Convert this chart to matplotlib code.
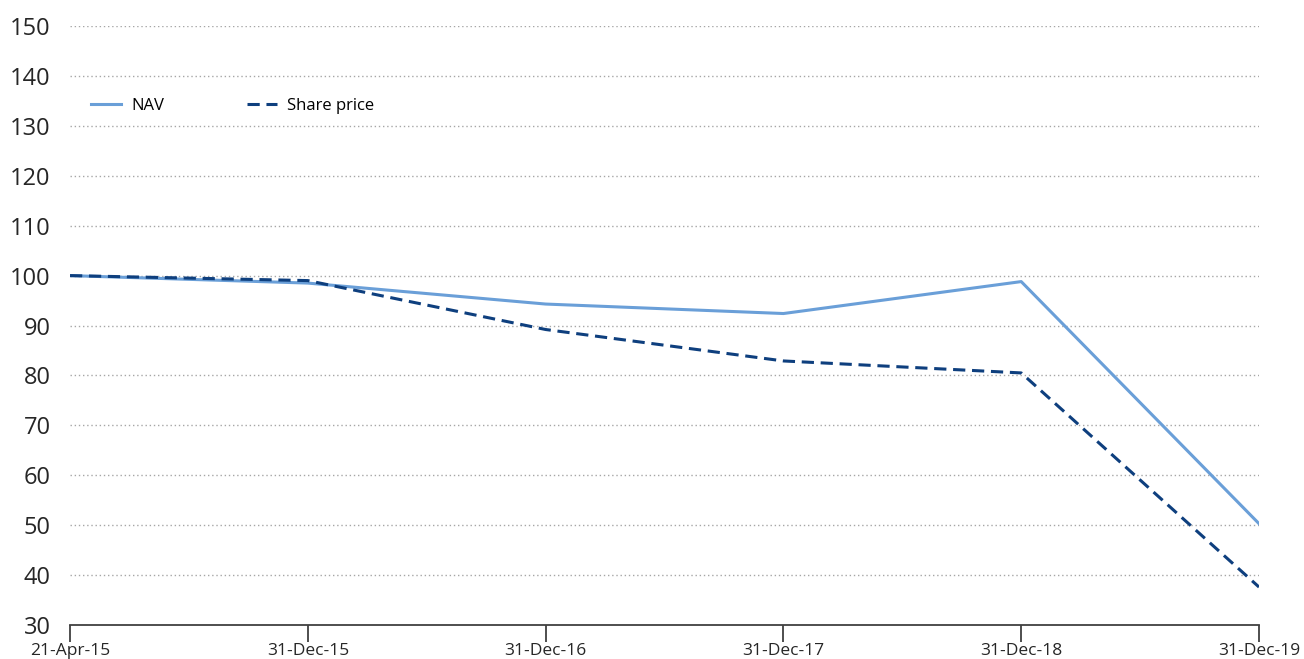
import numpy as np
import matplotlib.pyplot as plt

plt.rcParams['font.family'] = ['Open Sans', 'DejaVu Sans']

dates = ['21-Apr-15', '31-Dec-15', '31-Dec-16', '31-Dec-17', '31-Dec-18', '31-Dec-19']
nav = [100.0, 98.5, 94.3, 92.4, 98.8, 50.3]
share_price = [100.0, 99.0, 89.2, 82.9, 80.5, 37.6]

x = np.arange(len(dates))

fig = plt.figure(figsize=(13.04, 6.59), dpi=100)
ax = fig.add_axes([0.0537, 0.0516, 0.9118, 0.9089])

ax.plot(x, nav, color='#6A9FD8', lw=2.2, label='NAV')
ax.plot(x, share_price, color='#0E3F7E', lw=2.2, ls=(0, (4, 2.2)), label='Share price')

ax.set_xlim(0, len(dates) - 1)
ax.set_ylim(30, 150)
ax.set_yticks(range(30, 151, 10))
ax.set_xticks(x)
ax.set_xticklabels(dates)

# dotted gridlines except at the baseline
for v in range(40, 151, 10):
    ax.axhline(v, color='#A6A6A6', lw=1, ls=(0, (1, 2)), zorder=0)

for s in ['top', 'right', 'left']:
    ax.spines[s].set_visible(False)
ax.spines['bottom'].set_color('#404040')
ax.spines['bottom'].set_linewidth(1.3)

ax.tick_params(axis='y', length=0, pad=14, labelsize=17, labelcolor='#262626')
ax.tick_params(axis='x', direction='out', length=12, width=1.3, color='#404040',
               pad=1, labelsize=12.5, labelcolor='#262626')

ax.legend(loc='upper left', bbox_to_anchor=(0.005, 0.905), ncol=2, frameon=False,
          fontsize=12, handlelength=1.8, columnspacing=5.0, handletextpad=0.6)

plt.savefig('out.png', dpi=100)
